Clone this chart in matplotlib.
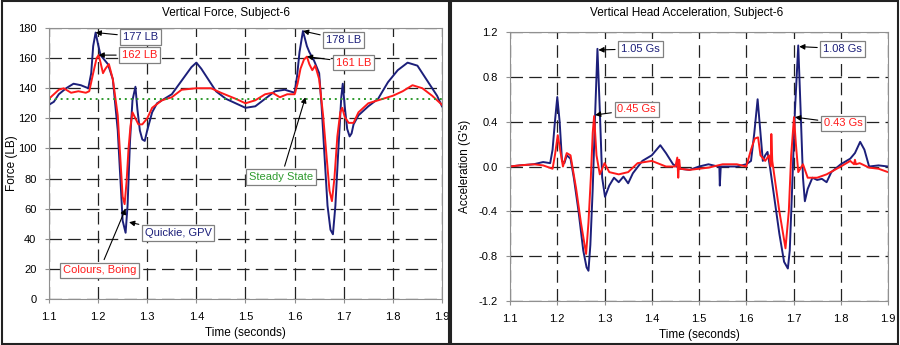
import matplotlib
matplotlib.use("Agg")
import matplotlib.pyplot as plt
from matplotlib.patches import Rectangle

plt.rcParams["font.family"] = ["Liberation Sans", "DejaVu Sans"]

# Vertical force (LB) - Quickie, GPV (blue)
t_force_blue = [1.100, 1.110, 1.120, 1.135, 1.150, 1.165, 1.180, 1.186, 1.190, 1.195,
                1.200, 1.205, 1.210, 1.220, 1.230, 1.240, 1.245, 1.250, 1.256, 1.260,
                1.265, 1.270, 1.276, 1.280, 1.285, 1.290, 1.295, 1.300, 1.310, 1.320,
                1.330, 1.350, 1.370, 1.390, 1.400, 1.410, 1.420, 1.440, 1.460, 1.480,
                1.500, 1.520, 1.540, 1.560, 1.580, 1.600, 1.605, 1.610, 1.617, 1.625,
                1.630, 1.640, 1.650, 1.655, 1.660, 1.667, 1.673, 1.678, 1.683, 1.690,
                1.695, 1.698, 1.702, 1.707, 1.712, 1.716, 1.720, 1.730, 1.750, 1.770,
                1.790, 1.810, 1.830, 1.850, 1.860, 1.870, 1.880, 1.890, 1.900]
force_blue = [129, 131, 136, 140, 143, 142, 140, 150, 168, 177,
              169, 162, 160, 156, 146, 112, 82, 52, 44, 62,
              105, 132, 141, 126, 112, 106, 105, 112, 124, 130,
              132, 136, 145, 154, 157, 153, 148, 138, 133, 130,
              127, 128, 133, 138, 139, 137, 148, 164, 178, 168,
              164, 158, 150, 128, 100, 62, 46, 43, 62, 105,
              134, 143, 128, 113, 108, 110, 116, 122, 128, 133,
              144, 152, 157, 155, 150, 145, 140, 135, 128]

# Vertical force (LB) - Colours, Boing (red)
t_force_red = [1.100, 1.110, 1.120, 1.130, 1.145, 1.160, 1.175, 1.182, 1.190, 1.197,
               1.201, 1.205, 1.210, 1.215, 1.222, 1.230, 1.240, 1.245, 1.250, 1.254,
               1.258, 1.262, 1.266, 1.270, 1.276, 1.282, 1.290, 1.300, 1.310, 1.330,
               1.350, 1.370, 1.400, 1.430, 1.450, 1.480, 1.500, 1.520, 1.540, 1.555,
               1.570, 1.585, 1.600, 1.606, 1.612, 1.619, 1.625, 1.630, 1.636, 1.642,
               1.650, 1.658, 1.665, 1.671, 1.676, 1.681, 1.687, 1.693, 1.697, 1.702,
               1.710, 1.720, 1.730, 1.750, 1.780, 1.800, 1.820, 1.840, 1.860, 1.880,
               1.900]
force_red = [133, 136, 139, 140, 137, 138, 137, 138, 150, 160,
             162, 157, 150, 153, 156, 146, 122, 95, 68, 63,
             78, 100, 115, 124, 120, 116, 116, 120, 127, 132,
             134, 139, 140, 140, 137, 133, 130, 132, 136, 137,
             134, 136, 136, 143, 153, 159, 161, 156, 152, 155,
             146, 122, 95, 72, 65, 80, 108, 124, 127, 121,
             117, 117, 124, 130, 133, 135, 138, 142, 140, 135,
             129]

steady_state = 133

# Vertical head acceleration (G's) - Quickie, GPV (blue)
t_acc_blue = [1.100, 1.120, 1.150, 1.170, 1.185, 1.190, 1.195, 1.200, 1.205, 1.210,
              1.215, 1.220, 1.228, 1.235, 1.245, 1.255, 1.262, 1.266, 1.270, 1.275,
              1.280, 1.285, 1.290, 1.295, 1.301, 1.310, 1.320, 1.330, 1.340, 1.350,
              1.360, 1.380, 1.400, 1.418, 1.430, 1.445, 1.460, 1.480, 1.500, 1.520,
              1.540, 1.543, 1.544, 1.546, 1.560, 1.580, 1.600, 1.610, 1.617, 1.624,
              1.630, 1.635, 1.640, 1.645, 1.650, 1.660, 1.670, 1.680, 1.688, 1.692,
              1.697, 1.703, 1.710, 1.715, 1.720, 1.724, 1.730, 1.740, 1.750, 1.760,
              1.770, 1.780, 1.800, 1.820, 1.830, 1.841, 1.850, 1.860, 1.880, 1.900]
acc_blue = [0.00, 0.01, 0.02, 0.04, 0.03, 0.15, 0.40, 0.62, 0.40, 0.05,
            0.03, 0.10, 0.07, -0.10, -0.40, -0.75, -0.90, -0.93, -0.70, -0.20,
            0.45, 1.05, 0.50, -0.10, -0.27, -0.17, -0.10, -0.14, -0.09, -0.15,
            -0.06, 0.05, 0.10, 0.19, 0.12, 0.02, -0.02, -0.03, 0.00, 0.02,
            0.00, 0.00, -0.17, 0.00, 0.00, 0.00, 0.02, 0.05, 0.30, 0.60,
            0.30, 0.05, 0.10, 0.13, 0.00, -0.30, -0.60, -0.85, -0.91, -0.75,
            -0.20, 0.50, 1.08, 0.50, -0.10, -0.31, -0.20, -0.10, -0.12, -0.11,
            -0.14, -0.05, 0.02, 0.07, 0.12, 0.22, 0.15, 0.00, 0.01, 0.00]

# Vertical head acceleration (G's) - Colours, Boing (red)
t_acc_red = [1.100, 1.120, 1.150, 1.170, 1.190, 1.195, 1.201, 1.206, 1.212, 1.220,
             1.228, 1.240, 1.250, 1.261, 1.266, 1.271, 1.275, 1.278, 1.283, 1.290,
             1.300, 1.310, 1.330, 1.350, 1.370, 1.400, 1.430, 1.450, 1.454, 1.456,
             1.458, 1.460, 1.480, 1.500, 1.520, 1.550, 1.580, 1.600, 1.610, 1.618,
             1.625, 1.630, 1.640, 1.648, 1.652, 1.653, 1.655, 1.660, 1.670, 1.683,
             1.690, 1.695, 1.701, 1.705, 1.710, 1.720, 1.730, 1.750, 1.770, 1.800,
             1.820, 1.828, 1.830, 1.832, 1.840, 1.860, 1.880, 1.900]
acc_red = [0.00, 0.01, 0.02, 0.01, -0.02, 0.10, 0.28, 0.15, 0.00, 0.12,
           0.10, -0.20, -0.50, -0.78, -0.50, -0.10, 0.30, 0.45, 0.10, -0.07,
           0.03, -0.05, -0.07, -0.05, 0.03, 0.05, 0.00, 0.00, 0.08, -0.10,
           0.06, -0.02, -0.03, -0.02, -0.01, 0.02, 0.02, 0.00, 0.15, 0.25,
           0.26, 0.10, 0.05, 0.10, 0.00, 0.29, 0.05, -0.10, -0.40, -0.73,
           -0.40, 0.10, 0.44, 0.20, -0.05, 0.02, -0.10, -0.10, -0.07, 0.00,
           0.05, 0.02, 0.06, 0.02, 0.03, -0.01, -0.02, -0.05]

x_ticks = [1.1, 1.2, 1.3, 1.4, 1.5, 1.6, 1.7, 1.8, 1.9]
force_ticks = list(range(0, 181, 20))
acc_ticks = [-1.2, -0.8, -0.4, 0.0, 0.4, 0.8, 1.2]
acc_tick_labels = ["-1.2", "-0.8", "-0.4", "0.0", "0.4", "0.8", "1.2"]

navy = "#1c1f7a"
red = "#ff1a1a"
green = "#2f9b2f"

fig = plt.figure(figsize=(9, 3.45), dpi=100)

# panel frames
fig.patches.append(Rectangle((0.002, 0.004), 0.497, 0.992, transform=fig.transFigure,
                             fill=False, ec="#222222", lw=1.5))
fig.patches.append(Rectangle((0.501, 0.004), 0.497, 0.992, transform=fig.transFigure,
                             fill=False, ec="#222222", lw=1.5))

ax1 = fig.add_axes([0.0544, 0.1333, 0.4367, 0.7855])
ax2 = fig.add_axes([0.5667, 0.1275, 0.4200, 0.7797])


def style_axes(ax):
    ax.set_xlim(1.1, 1.9)
    ax.set_xticks(x_ticks)
    ax.grid(True, color="#222222", ls=(0, (10, 5)), lw=0.9)
    for s in ax.spines.values():
        s.set_color("#909090")
    ax.tick_params(labelsize=8, length=3, color="#909090", pad=6)


def box(c):
    return dict(boxstyle="square,pad=0.25", fc="white", ec="#808080", lw=0.9)


arrow = dict(arrowstyle="-|>", color="black", lw=0.8, mutation_scale=8, shrinkB=0)

# Force chart
ax1.plot(t_force_blue, force_blue, color=navy, lw=1.4)
ax1.plot(t_force_red, force_red, color=red, lw=1.4)
ax1.axhline(steady_state, color=green, ls=(0, (1, 2)), lw=1.4)
style_axes(ax1)
ax1.set_ylim(0, 180)
ax1.set_yticks(force_ticks)
ax1.set_xlabel("Time (seconds)", fontsize=8.5, labelpad=4)
ax1.set_ylabel("Force (LB)", fontsize=8.5)
ax1.yaxis.set_label_coords(-0.08, 0.5)

ax1.annotate("177 LB", xy=(1.195, 177), xytext=(1.287, 174), color=navy, fontsize=8,
             ha="center", va="center", bbox=box(navy), arrowprops=arrow)
ax1.annotate("162 LB", xy=(1.201, 162), xytext=(1.285, 162), color=red, fontsize=8,
             ha="center", va="center", bbox=box(red), arrowprops=arrow)
ax1.annotate("178 LB", xy=(1.617, 178), xytext=(1.700, 172), color=navy, fontsize=8,
             ha="center", va="center", bbox=box(navy), arrowprops=arrow)
ax1.annotate("161 LB", xy=(1.625, 161), xytext=(1.720, 157), color=red, fontsize=8,
             ha="center", va="center", bbox=box(red), arrowprops=arrow)
ax1.annotate("Steady State", xy=(1.622, 134), xytext=(1.573, 81), color=green, fontsize=8,
             ha="center", va="center", bbox=box(green), arrowprops=arrow)
ax1.annotate("Quickie, GPV", xy=(1.263, 51), xytext=(1.363, 44), color=navy, fontsize=8,
             ha="center", va="center", bbox=box(navy), arrowprops=arrow)
ax1.annotate("Colours, Boing", xy=(1.256, 60), xytext=(1.203, 19), color=red, fontsize=8,
             ha="center", va="center", bbox=box(red), arrowprops=arrow)

# Acceleration chart
ax2.plot(t_acc_blue, acc_blue, color=navy, lw=1.4)
ax2.plot(t_acc_red, acc_red, color=red, lw=1.4)
style_axes(ax2)
ax2.set_ylim(-1.2, 1.2)
ax2.set_yticks(acc_ticks)
ax2.set_yticklabels(acc_tick_labels)
ax2.set_xlabel("Time (seconds)", fontsize=8.5, labelpad=4)
ax2.set_ylabel("Acceleration (G's)", fontsize=8.5)
ax2.yaxis.set_label_coords(-0.103, 0.5)

ax2.annotate("1.05 Gs", xy=(1.287, 1.04), xytext=(1.376, 1.05), color=navy, fontsize=8,
             ha="center", va="center", bbox=box(navy), arrowprops=arrow)
ax2.annotate("0.45 Gs", xy=(1.280, 0.46), xytext=(1.368, 0.51), color=red, fontsize=8,
             ha="center", va="center", bbox=box(red), arrowprops=arrow)
ax2.annotate("1.08 Gs", xy=(1.712, 1.07), xytext=(1.804, 1.05), color=navy, fontsize=8,
             ha="center", va="center", bbox=box(navy), arrowprops=arrow)
ax2.annotate("0.43 Gs", xy=(1.703, 0.44), xytext=(1.805, 0.384), color=red, fontsize=8,
             ha="center", va="center", bbox=box(red), arrowprops=arrow)

fig.text(226 / 900, 1 - 13 / 345, "Vertical Force, Subject-6", ha="center", va="center",
         fontsize=8.5)
fig.text(687 / 900, 1 - 13 / 345, "Vertical Head Acceleration, Subject-6", ha="center",
         va="center", fontsize=8.5)

fig.savefig("out.png", dpi=100)
